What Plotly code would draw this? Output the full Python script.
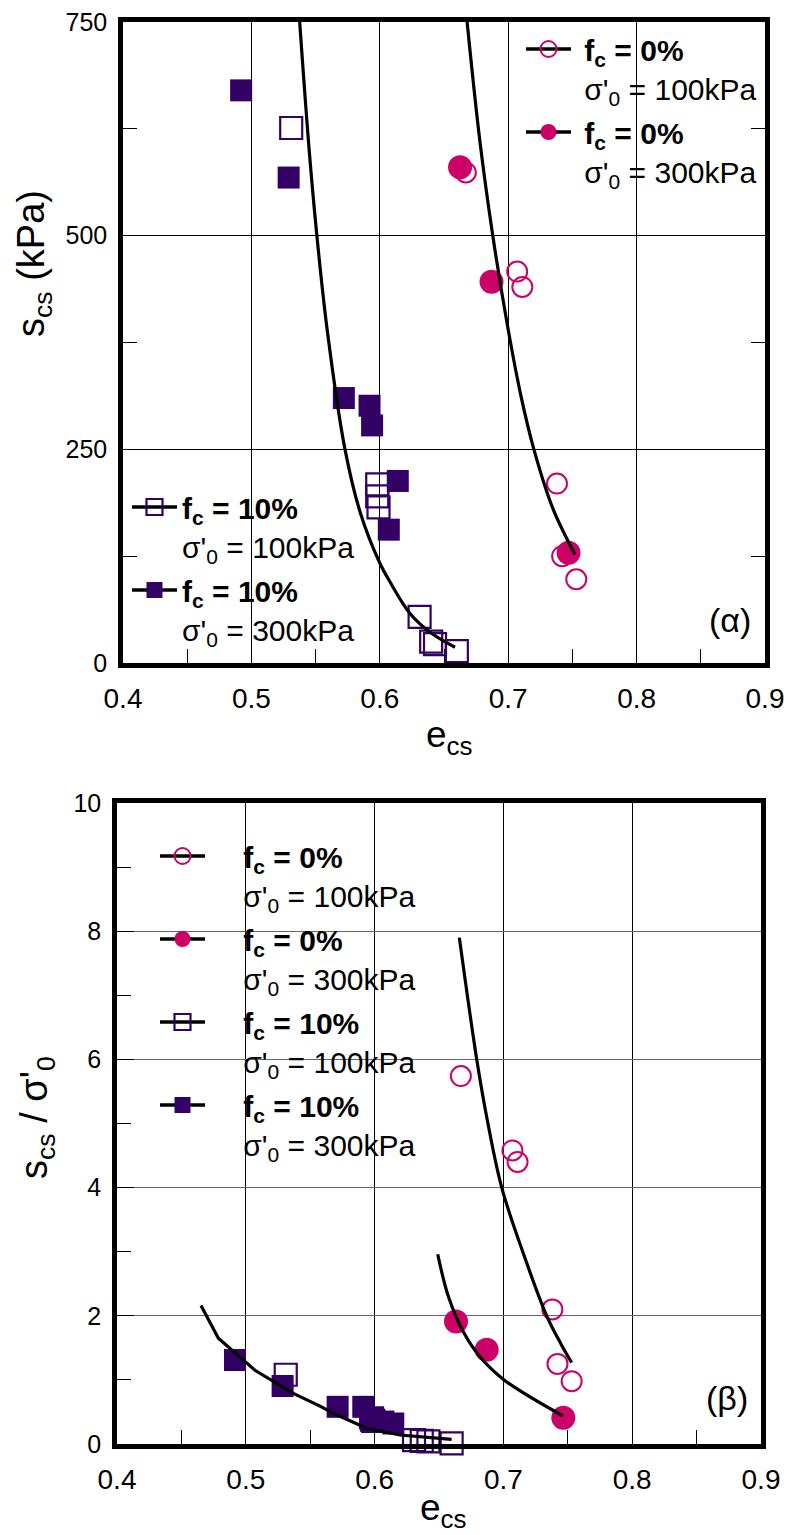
import plotly.graph_objects as go

# ---------------- data ----------------
# Panel (a): s_cs (kPa) vs e_cs
a_fc0_100_e = [0.667, 0.707, 0.711, 0.738, 0.742, 0.753]
a_fc0_100_s = [574, 458, 440, 210, 125, 98]
a_fc0_300_e = [0.6625, 0.687, 0.747]
a_fc0_300_s = [580, 446, 129]
a_fc10_100_e = [0.531, 0.598, 0.598, 0.599, 0.631, 0.640, 0.643, 0.660]
a_fc10_100_s = [626, 209, 195, 182, 54, 25, 22, 14]
a_fc10_300_e = [0.492, 0.529, 0.572, 0.592, 0.594, 0.614, 0.607]
a_fc10_300_s = [670, 568, 310, 301, 278, 213, 156]
a_curve0_e = [0.668, 0.678, 0.688, 0.700, 0.710, 0.720, 0.735, 0.752]
a_curve0_s = [750, 610, 500, 390, 312, 250, 180, 127]
a_curve10_e = [0.5376, 0.545, 0.551, 0.559, 0.5729, 0.585, 0.600, 0.6079, 0.6235, 0.640, 0.6586]
a_curve10_s = [750, 600, 500, 390, 250, 175, 117, 95, 58, 35, 18.4]

# Panel (b): s_cs / sigma'_0 vs e_cs
b_fc0_100_e = [0.667, 0.707, 0.711, 0.738, 0.742, 0.753]
b_fc0_100_r = [5.74, 4.58, 4.40, 2.10, 1.25, 0.98]
b_fc0_300_e = [0.6632, 0.687, 0.7465]
b_fc0_300_r = [1.91, 1.47, 0.41]
b_fc10_100_e = [0.531, 0.598, 0.598, 0.599, 0.6306, 0.6366, 0.6418, 0.6598]
b_fc10_100_r = [1.08, 0.40, 0.38, 0.36, 0.06, 0.05, 0.04, 0.01]
b_fc10_300_e = [0.4916, 0.5286, 0.5713, 0.5912, 0.5964, 0.6068, 0.6145]
b_fc10_300_r = [1.31, 0.905, 0.58, 0.58, 0.40, 0.35, 0.32]
b_curve0_100_e = [0.6658, 0.6793, 0.688, 0.6987, 0.715, 0.7336, 0.745, 0.753]
b_curve0_100_r = [7.9, 6.0, 5.0, 4.0, 3.0, 2.0, 1.55, 1.27]
b_curve0_300_e = [0.649, 0.6573, 0.6689, 0.6818, 0.7005, 0.746]
b_curve0_300_r = [2.96, 2.30, 1.75, 1.36, 1.0, 0.44]
b_curve10_e = [0.4652, 0.4787, 0.5071, 0.5369, 0.5576, 0.5679, 0.5938, 0.6197, 0.6598]
b_curve10_r = [2.16, 1.65, 1.15, 0.79, 0.59, 0.48, 0.245, 0.14, 0.073]

x_ticks = [0.4, 0.5, 0.6, 0.7, 0.8, 0.9]
ya_ticks = [0, 250, 500, 750]
yb_ticks = [0, 2, 4, 6, 8, 10]

NB = "\u00a0"

def label(fc, sig, pad):
    p = NB * pad
    return f"{p}<b>f<sub>c</sub> = {fc}%</b><br>{p}σ'<sub>0</sub> = {sig}kPa"

# ---------------- style ----------------
MAG = "#CC0066"
PUR = "#330066"
FONT = "Liberation Sans, Arial, sans-serif"
W, H = 787, 1535

sty = {
    "c_open": dict(symbol="circle-open", size=20, color=MAG, line=dict(color=MAG, width=2)),
    "c_fill": dict(symbol="circle", size=24, color=MAG),
    "s_open": dict(symbol="square-open", size=22, color=PUR, line=dict(color=PUR, width=2.2)),
    "s_fill": dict(symbol="square", size=22, color=PUR),
}

fig = go.Figure()

def pts(x, y, st, xa, ya):
    fig.add_trace(go.Scatter(x=x, y=y, mode="markers", marker=sty[st], xaxis=xa, yaxis=ya,
                             showlegend=False, cliponaxis=False, hoverinfo="skip"))

def curve(x, y, xa, ya, shape="spline"):
    fig.add_trace(go.Scatter(x=x, y=y, mode="lines", line=dict(color="black", width=3.2, shape=shape),
                             xaxis=xa, yaxis=ya, showlegend=False, cliponaxis=True, hoverinfo="skip"))

def leg(name, st, xa, ya, legend, grp):
    fig.add_trace(go.Scatter(x=[None], y=[None], mode="lines+markers", name=name,
                             marker=sty[st], line=dict(color="black", width=3.5),
                             xaxis=xa, yaxis=ya, legend=legend, legendgroup=grp, showlegend=True))

# panel (a)
pts(a_fc10_100_e, a_fc10_100_s, "s_open", "x", "y")
pts(a_fc10_300_e, a_fc10_300_s, "s_fill", "x", "y")
pts(a_fc0_100_e, a_fc0_100_s, "c_open", "x", "y")
pts(a_fc0_300_e, a_fc0_300_s, "c_fill", "x", "y")
curve(a_curve0_e, a_curve0_s, "x", "y")
curve(a_curve10_e, a_curve10_s, "x", "y")
leg(label(0, 100, 1), "c_open", "x", "y", "legend", "a1")
leg(label(0, 300, 1), "c_fill", "x", "y", "legend", "a2")
leg(label(10, 100, 0), "s_open", "x", "y", "legend2", "a3")
leg(label(10, 300, 0), "s_fill", "x", "y", "legend2", "a4")

# panel (b)
pts(b_fc10_100_e, b_fc10_100_r, "s_open", "x2", "y2")
pts(b_fc10_300_e, b_fc10_300_r, "s_fill", "x2", "y2")
pts(b_fc0_100_e, b_fc0_100_r, "c_open", "x2", "y2")
pts(b_fc0_300_e, b_fc0_300_r, "c_fill", "x2", "y2")
curve(b_curve0_100_e, b_curve0_100_r, "x2", "y2")
curve(b_curve0_300_e, b_curve0_300_r, "x2", "y2")
curve(b_curve10_e, b_curve10_r, "x2", "y2", shape="linear")
leg(label(0, 100, 4), "c_open", "x2", "y2", "legend3", "b1")
leg(label(0, 300, 4), "c_fill", "x2", "y2", "legend3", "b2")
leg(label(10, 100, 4), "s_open", "x2", "y2", "legend3", "b3")
leg(label(10, 300, 4), "s_fill", "x2", "y2", "legend3", "b4")

def px_x(p):
    return p / W

def px_y(p):
    return (H - p) / H

def xaxis(dom, anchor):
    return dict(domain=dom, anchor=anchor, range=[0.4, 0.9], tickvals=x_ticks,
                ticktext=[f"{v:.1f}" for v in x_ticks],
                showline=True, linewidth=4.5, linecolor="black", mirror=True,
                showgrid=True, gridcolor="black", gridwidth=1,
                ticks="inside", ticklen=17, tickwidth=1, tickcolor="black",
                minor=dict(ticks="inside", ticklen=14, tickwidth=1, tickcolor="black",
                           dtick=0.05, tick0=0.45, showgrid=False),
                tickfont=dict(family=FONT, size=28, color="black"),
                ticklabelstandoff=7, zeroline=False, fixedrange=True, automargin=False)

def yaxis(dom, anchor, rng, tv, dt, gc, mir):
    return dict(domain=dom, anchor=anchor, range=rng, tickvals=tv,
                ticktext=[str(v) for v in tv],
                showline=True, linewidth=4.5, linecolor="black", mirror=mir,
                showgrid=True, gridcolor=gc, gridwidth=1,
                ticks="inside", ticklen=17, tickwidth=1, tickcolor="black",
                minor=dict(ticks="inside", ticklen=14, tickwidth=1, tickcolor="black",
                           dtick=dt, showgrid=False),
                tickfont=dict(family=FONT, size=25, color="black"),
                ticklabelstandoff=6, zeroline=False, fixedrange=True, automargin=False)

legend_common = dict(bgcolor="rgba(255,255,255,0)", borderwidth=0,
                     font=dict(family=FONT, size=30, color="black"),
                     xanchor="left", yanchor="top", valign="top", itemwidth=45,
                     traceorder="grouped", tracegroupgap=2, itemclick=False, itemdoubleclick=False)

fig.update_layout(
    width=W, height=H, margin=dict(l=0, r=0, t=0, b=0, autoexpand=False),
    paper_bgcolor="white", plot_bgcolor="white",
    xaxis=xaxis([px_x(123), px_x(765)], "y"),
    yaxis=yaxis([px_y(663), px_y(22)], "x", [0, 750], ya_ticks, 125, "black", "ticks"),
    xaxis2=xaxis([px_x(117), px_x(761)], "y2"),
    yaxis2=yaxis([px_y(1444), px_y(803)], "x2", [0, 10], yb_ticks, 1, "#666666", True),
    legend=dict(x=px_x(521), y=px_y(23), **legend_common),
    legend2=dict(x=px_x(127), y=px_y(481), **legend_common),
    legend3=dict(x=px_x(155), y=px_y(830), **legend_common),
    showlegend=True,
)

# white panels behind the legends (hide the grid lines there, as in the reference)
def blank(x0, y0, x1, y1):
    return dict(type="rect", xref="paper", yref="paper", x0=px_x(x0), x1=px_x(x1),
                y0=px_y(y1), y1=px_y(y0), fillcolor="white", line=dict(width=0), layer="between")

fig.update_layout(shapes=[blank(515, 25, 760, 195), blank(140, 472, 372, 650), blank(152, 833, 430, 1168)])

ann_font_title = dict(family=FONT, size=37, color="black")
annotations = [
    dict(text="e<sub>cs</sub>", x=px_x(449), y=px_y(737), xref="paper", yref="paper",
         showarrow=False, font=ann_font_title, xanchor="center", yanchor="middle"),
    dict(text="e<sub>cs</sub>", x=px_x(443), y=px_y(1510), xref="paper", yref="paper",
         showarrow=False, font=ann_font_title, xanchor="center", yanchor="middle"),
    dict(text="s<sub>cs</sub> (kPa)", x=px_x(34), y=px_y(264), xref="paper", yref="paper",
         showarrow=False, font=dict(family=FONT, size=38, color="black"), textangle=-90,
         xanchor="center", yanchor="middle"),
    dict(text="s<sub>cs</sub> / σ'<sub>0</sub>", x=px_x(37), y=px_y(1118), xref="paper", yref="paper",
         showarrow=False, font=dict(family=FONT, size=38, color="black"), textangle=-90,
         xanchor="center", yanchor="middle"),
    dict(text="(α)", x=px_x(730), y=px_y(620), xref="paper", yref="paper",
         showarrow=False, font=dict(family=FONT, size=34, color="black"), xanchor="center", yanchor="middle"),
    dict(text="(β)", x=px_x(727), y=px_y(1398), xref="paper", yref="paper",
         showarrow=False, font=dict(family=FONT, size=34, color="black"), xanchor="center", yanchor="middle"),
]
fig.update_layout(annotations=annotations)

fig.write_html("out.html")
